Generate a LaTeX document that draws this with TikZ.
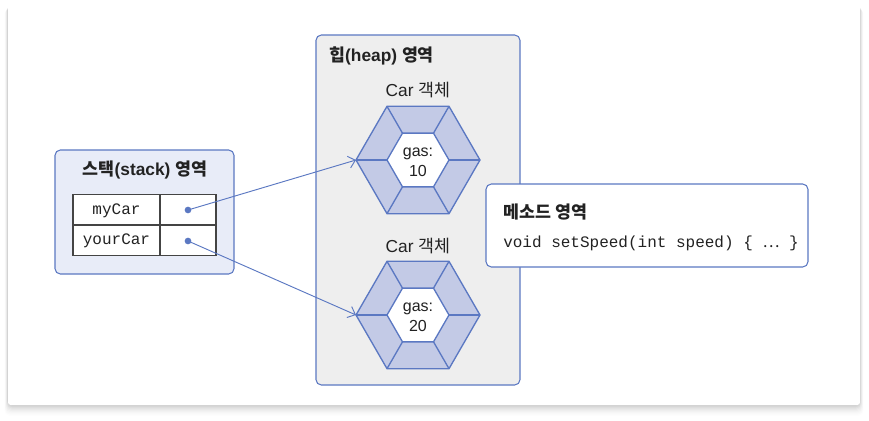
\documentclass[tikz,border=0pt]{standalone}
\usepackage{fontspec}
\setmainfont{Liberation Sans}
\setmonofont{Liberation Mono}
\newfontfamily\kr{Noto Sans CJK KR}
\usetikzlibrary{arrows.meta}
\definecolor{lineblue}{HTML}{5B78C2}
\definecolor{stackfill}{HTML}{E8ECF8}
\definecolor{heapfill}{HTML}{EEEEEE}
\definecolor{hexfill}{HTML}{C3CAE6}
\definecolor{txt}{HTML}{222222}
\definecolor{tabline}{HTML}{444444}
\tikzset{
  region/.style={draw=lineblue, line width=0.8pt, rounded corners=4pt, inner sep=0pt},
  hexline/.style={draw=lineblue, line width=1pt, line join=miter},
  titletext/.style={font=\fontsize{13}{15}\selectfont\bfseries, text=txt, inner sep=0pt},
  objtext/.style={font=\fontsize{13}{15}\selectfont, text=txt, inner sep=0pt},
  gastext/.style={font=\fontsize{12}{15}\selectfont, text=txt, inner sep=0pt, align=center},
  codetext/.style={font=\ttfamily\fontsize{12}{15}\selectfont, text=txt, inner sep=0pt},
  refdot/.style={circle, fill=lineblue, inner sep=0pt, minimum size=5pt},
  conn/.style={draw=lineblue, line width=0.7pt, -{Straight Barb[length=5pt,width=9pt,line width=0.7pt]}}
}
\newcommand\hexobj[2]{%
  \begin{scope}[shift={#1}]
    \fill[hexfill] (0:62)--(60:62)--(120:62)--(180:62)--(240:62)--(300:62)--cycle;
    \fill[white] (0:31)--(60:31)--(120:31)--(180:31)--(240:31)--(300:31)--cycle;
    \path[hexline] (0:62)--(60:62)--(120:62)--(180:62)--(240:62)--(300:62)--cycle;
    \path[hexline] (0:31)--(60:31)--(120:31)--(180:31)--(240:31)--(300:31)--cycle;
    \foreach \a in {0,60,...,300} \path[hexline] (\a:31)--(\a:62);
    \coordinate (#2) at (180:62);
  \end{scope}}
\begin{document}
\begin{tikzpicture}[x=0.75pt,y=-0.75pt]
\useasboundingbox (0,0) rectangle (869,421);
\fill[white] (0,0) rectangle (869,421);
% card shadow
\foreach \i/\o in {1/0.04,2/0.035,3/0.03,4/0.025,5/0.02,6/0.015,7/0.012,8/0.01,9/0.008}
  \fill[black,opacity=\o,rounded corners=4pt] (8-\i*0.4,4+\i*0.5) rectangle (860+\i*0.4,405+\i*1.2);
\node[fill=white, rounded corners=2pt, inner sep=0pt, minimum width={852*0.75pt}, minimum height={401*0.75pt}] (card) at (434,204.5) {};

% stack region
\node[region, fill=stackfill, minimum width={179*0.75pt}, minimum height={124*0.75pt}] (stack) at (144.5,212) {};
\node[titletext] (stitle) at (145,170) {{\kr 스택}(stack) {\kr 영역}};
\node[draw=tabline, fill=white, line width=0.8pt, inner sep=0pt, minimum width={143*0.75pt}, minimum height={61*0.75pt}] (table) at (144.5,225) {};
\draw[tabline, line width=0.8pt] (table.west) -- (table.east);
\draw[tabline, line width=0.8pt] (160,194.5) -- (160,255.5);
\node[codetext] (mycar) at (116.5,210.5) {myCar};
\node[codetext] (yourcar) at (116.5,241) {yourCar};
\node[refdot] (d1) at (188,210) {};
\node[refdot] (d2) at (188,241) {};

% heap region
\node[region, fill=heapfill, minimum width={204*0.75pt}, minimum height={350*0.75pt}] (heap) at (418,210) {};
\node[titletext, anchor=west] (htitle) at (329,56) {{\kr 힙}(heap) {\kr 영역}};
\node[objtext] (car1) at (418,90) {Car {\kr 객체}};
\hexobj{(418,160)}{h1w}
\node[gastext] (g1) at (418,162) {gas:\\10};
\node[objtext] (car2) at (418,246) {Car {\kr 객체}};
\hexobj{(418,315)}{h2w}
\node[gastext] (g2) at (418,317) {gas:\\20};

% method region
\node[region, fill=white, minimum width={322*0.75pt}, minimum height={83*0.75pt}] (method) at (647,225.5) {};
\node[titletext, anchor=west] (mtitle) at (503,212) {{\kr 메소드 영역}};
\node[codetext, anchor=west] (code) at (503,243) {void setSpeed(int speed) \{ {\kr ⋯} \}};

% references
\draw[conn] (d1.center) -- (h1w);
\draw[conn] (d2.center) -- (h2w);
\end{tikzpicture}
\end{document}
